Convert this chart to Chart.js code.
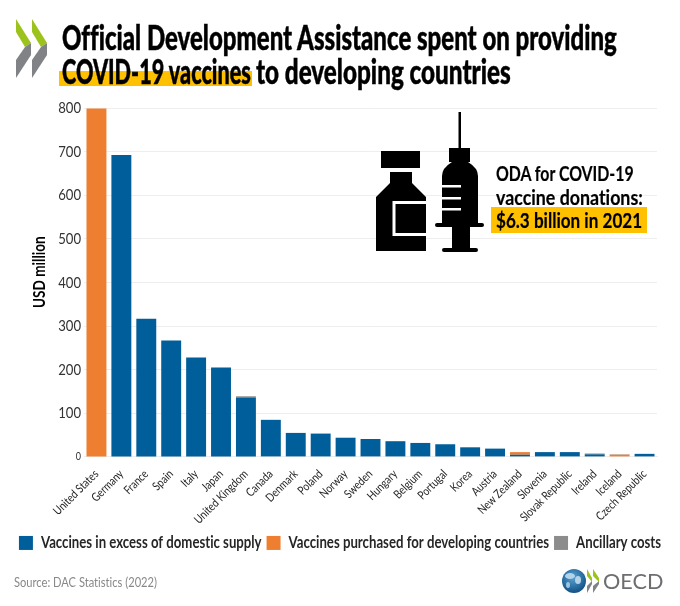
<!DOCTYPE html>
<html>
<head>
<meta charset="utf-8">
<script src="https://cdn.jsdelivr.net/npm/chart.js@4"></script>
<style>
  html, body { margin: 0; padding: 0; background: #fff; }
  #page { position: relative; width: 680px; height: 606px; overflow: hidden; font-family: Lato, sans-serif; font-variant-ligatures: none; }
  #chartCanvas { position: absolute; left: 0; top: 0; }
  .txt { position: absolute; white-space: nowrap; transform-origin: 0 0; line-height: 1; }
  .title { font-size: 35px; font-weight: 900; color: #000; -webkit-text-stroke: 0.5px #000; }
  .note { font-size: 20px; font-weight: bold; color: #000; -webkit-text-stroke: 0.2px #000; }
  .block { position: absolute; background: #ffc000; }
</style>
</head>
<body>
<div id="page">
  <canvas id="chartCanvas" width="680" height="561"></canvas>

  <svg style="position:absolute;left:0;top:0" width="680" height="606">
    <!-- chevrons top left -->
    <polygon points="16,19 31,43 25,47 16,32" fill="#9bc31c"/>
    <polygon points="32,19 47,43 41,47 32,32" fill="#9bc31c"/>
    <polygon points="31,43 31,55 16,78 16,60 25,47" fill="#808285"/>
    <polygon points="47,43 47,55 32,78 32,60 41,47" fill="#808285"/>
    <!-- vial -->
    <rect x="381" y="151" width="39" height="17" fill="#000"/>
    <path d="M390 172 H412 V183 L426 197 V251 H376 V197 L390 183 Z" fill="#000"/>
    <path d="M426 202.500 H394 V234.500 H426" fill="none" stroke="#fff" stroke-width="3"/>
    <!-- syringe -->
    <rect x="458.500" y="112" width="2.500" height="37" fill="#000"/>
    <rect x="449" y="148" width="21" height="14" fill="#000"/>
    <path d="M442 224 V176 Q442 168 452 162 H468 Q478 168 478 176 V224 Z" fill="#000"/>
    <rect x="435" y="223" width="49" height="4" rx="2" fill="#000"/>
    <rect x="452" y="226" width="18" height="23" fill="#000"/>
    <rect x="442" y="248" width="36" height="4" rx="2" fill="#000"/>
    <rect x="442" y="185" width="19" height="2.500" fill="#fff"/>
    <rect x="442" y="197" width="19" height="2.500" fill="#fff"/>
    <rect x="442" y="208" width="19" height="2.500" fill="#fff"/>
    <!-- OECD globe and chevrons -->
    <defs><radialGradient id="globe" cx="45%" cy="35%" r="70%"><stop offset="0" stop-color="#5aa3d2"/><stop offset="1" stop-color="#0b4a80"/></radialGradient></defs>
    <circle cx="574" cy="581" r="12" fill="url(#globe)"/>
    <ellipse cx="570" cy="576" rx="5" ry="3" fill="#b5d3e8"/>
    <ellipse cx="578" cy="580" rx="3" ry="4" fill="#b5d3e8"/>
    <ellipse cx="568" cy="585" rx="2" ry="3" fill="#9cc4df"/>
    <polygon points="587,569 592,578 592,582 587,576" fill="#9bc31c"/>
    <polygon points="593,569 599,578 599,582 593,576" fill="#9bc31c"/>
    <polygon points="592,581 592,584 587,593 587,586" fill="#808285"/>
    <polygon points="599,581 599,584 593,593 593,586" fill="#808285"/>
  </svg>

  <div class="block" style="left:59px;top:71px;width:193px;height:15px"></div>
  <div class="block" style="left:491px;top:207px;width:156px;height:26px"></div>

  <div class="txt title" data-w="555" style="left:62px;top:19px">Official Development Assistance spent on providing</div>
  <div class="txt title" data-w="189" style="left:62px;top:53px">COVID-19 vaccines</div>
  <div class="txt title" data-w="255" style="left:256px;top:53px">to developing countries</div>
  <div class="txt note" data-w="138" style="left:496px;top:163px">ODA for COVID-19</div>
  <div class="txt note" data-w="147" style="left:496px;top:187px">vaccine donations:</div>
  <div class="txt note" data-w="146" style="left:496px;top:210px">$6.3 billion in 2021</div>
  <div class="txt" id="yTitle" style="left:30px;top:308px;font-size:17px;font-weight:bold;color:#000;transform:rotate(-90deg) scaleX(.8)">USD million</div>
  <div class="txt" data-w="143" style="left:14px;top:575px;font-size:14px;color:#888">Source: DAC Statistics (2022)</div>
  <div class="txt" data-w="60" style="left:603px;top:570px;font-size:22px;color:#6d6e71">OECD</div>
</div>

<script>
const countries = ["United States","Germany","France","Spain","Italy","Japan","United Kingdom","Canada","Denmark","Poland","Norway","Sweden","Hungary","Belgium","Portugal","Korea","Austria","New Zealand","Slovenia","Slovak Republic","Ireland","Iceland","Czech Republic"];
const excessSupply = [0,692,317,267,228,205,136,85,55,53,44,41,36,32,29,22,19,5,11,11,6,0,7];
const purchased    = [799,0,0,0,0,0,0,0,0,0,0,0,0,0,0,0,0,6,0,0,1,5,0];
const ancillary    = [0,0,0,0,0,0,3,0,0,1,0,0,0,0,0,0,0,0,0,0,1,1,0];
const yTicks = [0,100,200,300,400,500,600,700,800];

const font = 'Lato, sans-serif';
const condense = 0.82;

// no condensed font installed, so squeeze the html text to its width
document.querySelectorAll('.txt[data-w]').forEach(el => {
    el.style.transform = `scaleX(${el.dataset.w / el.offsetWidth})`;
});

// same for everything chart.js writes on the canvas
const canvas = document.getElementById('chartCanvas');
const ctx = canvas.getContext('2d');
const rawFill = ctx.fillText.bind(ctx);
const rawMeasure = ctx.measureText.bind(ctx);
ctx.fillText = (text, x, y) => {
    ctx.save();
    ctx.translate(x, y);
    ctx.scale(condense, 1);
    rawFill(text, 0, 0);
    ctx.restore();
};
ctx.measureText = text => ({ width: rawMeasure(text).width * condense });

new Chart(ctx, {
    type: 'bar',
    data: {
        labels: countries,
        datasets: [
            { label: 'Vaccines in excess of domestic supply', data: excessSupply, backgroundColor: '#005f9a' },
            { label: 'Vaccines purchased for developing countries', data: purchased, backgroundColor: '#ee7f30' },
            { label: 'Ancillary costs', data: ancillary, backgroundColor: '#8c8c8c' }
        ]
    },
    options: {
        responsive: false,
        animation: false,
        devicePixelRatio: 1,
        layout: { padding: { top: 108, left: 0, right: 0, bottom: 0 } },
        datasets: { bar: { categoryPercentage: 1, barPercentage: 0.8 } },
        plugins: {
            tooltip: { enabled: false },
            legend: {
                position: 'bottom',
                labels: { boxWidth: 14, boxHeight: 14, padding: 5, color: '#262626', font: { family: font, size: 16.1, weight: 'bold' } }
            }
        },
        scales: {
            x: {
                stacked: true,
                grid: { display: false },
                border: { color: '#ececec' },
                afterFit: scale => { scale.height = 73; },
                ticks: { autoSkip: false, maxRotation: 45, minRotation: 45, color: '#262626', padding: 2, font: { family: font, size: 12 } }
            },
            y: {
                stacked: true,
                min: 0,
                max: 800,
                afterFit: scale => { scale.width = 84; },
                afterBuildTicks: scale => { scale.ticks = yTicks.map(v => ({ value: v })); },
                border: { display: false },
                grid: { color: '#eeeeee', drawTicks: false },
                ticks: {
                    color: '#333',
                    padding: 3,
                    font: c => ({ family: font, size: c.tick && c.tick.value === 0 ? 11 : 16 })
                }
            },
            // empty axis, only keeps the plot off the right edge while the legend gets the full width
            rightGap: {
                position: 'right',
                afterFit: scale => { scale.width = 23; },
                grid: { display: false },
                border: { display: false },
                ticks: { display: false }
            }
        }
    }
});
</script>
</body>
</html>
